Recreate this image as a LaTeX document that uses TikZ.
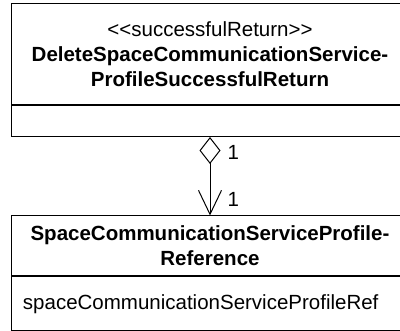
\documentclass[tikz,border=0pt]{standalone}
\usepackage{fontspec}
\setmainfont{Liberation Sans}
\usetikzlibrary{positioning, arrows.meta}

\tikzset{
    classbox/.style={draw, line width=1pt, minimum width=398pt, inner sep=0pt, align=center,
        font=\fontsize{20.5}{25}\selectfont},
    attrbox/.style={classbox, align=left, text width=374pt, inner xsep=12pt},
    mult/.style={right, inner sep=0pt, xshift=17pt, font=\fontsize{20.5}{25}\selectfont}
}

\begin{document}
\begin{tikzpicture}[x=1pt, y=1pt]

    \clip (0,0) rectangle (400,-331);

    % --- TOP: return class ---
    \node[classbox, minimum height=101pt] (ret) at (210,-54)
        {{<}{<}successfulReturn{>}{>}\\ \textbf{DeleteSpaceCommunicationService-}\\ \textbf{ProfileSuccessfulReturn}};
    \node[classbox, minimum height=31pt, below=0pt of ret] (retattr) {};

    % --- BOTTOM: reference class ---
    \node[classbox, minimum height=60pt] (ref) at (210,-246)
        {\textbf{SpaceCommunicationServiceProfile-}\\ \textbf{Reference}};
    \node[attrbox, minimum height=53.5pt, below=0pt of ref] (refattr)
        {spaceCommunicationServiceProfileRef};

    % Aggregation
    \draw[line width=1pt, {Diamond[open, length=27pt, width=21pt]}-{Straight Barb[length=24pt, width=23pt]}]
        (retattr.south) -- (ref.north)
        node[mult, pos=0.2] (m1) {1}
        node[mult, pos=0.8] (m2) {1};

\end{tikzpicture}
\end{document}
